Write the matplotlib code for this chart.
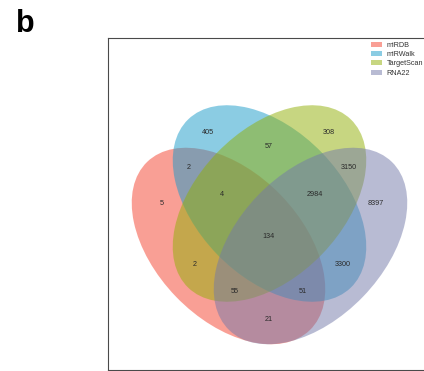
import matplotlib
matplotlib.use("Agg")
import matplotlib.pyplot as plt
from matplotlib.patches import Ellipse, Patch

# ---- data ----
set_names = ["miRDB", "miRWalk", "TargetScan", "RNA22"]
set_colors = ["#f5412d", "#199bc9", "#91af05", "#7379a9"]
region_keys = ["1000", "0100", "0010", "0001", "1100", "0011", "0110",
               "1110", "0111", "1111", "1010", "0101", "1011", "1101", "1001"]
region_counts = [5, 405, 308, 8397, 2, 3150, 57,
                 4, 2984, 134, 2, 3300, 55, 51, 21]

# ---- layout (pixel based, y measured from top) ----
W, H = 424, 371
fig = plt.figure(figsize=(W / 100, H / 100), dpi=100)
left, right, top, bottom = 107.5, 445.0, 38.3, 370.0
ax = fig.add_axes([left / W, (H - bottom) / H, (right - left) / W, (bottom - top) / H])
ax.set_xlim(left, right)
ax.set_ylim(H - bottom, H - top)
ax.set_xticks([])
ax.set_yticks([])
for s in ax.spines.values():
    s.set_color("#4a4a4a")
    s.set_linewidth(0.8)

ell_geom = [  # (cx, cy_from_top, angle)
    (228.5, 246.0, 134),
    (269.5, 203.5, 134),
    (269.5, 203.5, 46),
    (310.5, 246.0, 46),
]
for (cx, cy, ang), col in zip(ell_geom, set_colors):
    ax.add_patch(Ellipse((cx, H - cy), 234, 146, angle=ang,
                         facecolor=col, alpha=0.5, edgecolor="none"))

label_pos = {
    "1000": (161.7, 203.3), "0100": (208.3, 132.7), "0010": (329.3, 132.7),
    "0001": (376.0, 203.3), "1100": (188.3, 167.3), "0011": (349.3, 167.3),
    "0110": (269.0, 146.7), "1110": (221.7, 195.0), "0111": (315.0, 195.0),
    "1111": (269.0, 236.7), "1010": (195.0, 264.0), "0101": (342.7, 264.0),
    "1011": (235.0, 291.7), "1101": (302.3, 291.7), "1001": (269.0, 319.3),
}
for k, v in zip(region_keys, region_counts):
    x, y = label_pos[k]
    ax.text(x, H - y, str(v), ha="center", va="center",
            fontsize=5.2, family="Liberation Sans", color="#2a2a2a")

handles = [Patch(facecolor=c, alpha=0.5, edgecolor="none") for c in set_colors]
fig.legend(handles, set_names, loc="upper left",
           bbox_to_anchor=(370.7 / W, 1 - 41.6 / H), bbox_transform=fig.transFigure,
           frameon=False, borderpad=0, borderaxespad=0,
           handlelength=1.53, handleheight=0.7, handletextpad=0.7,
           labelspacing=0.32,
           prop={"family": "Liberation Sans", "size": 5.2})
for t in fig.legends[0].get_texts():
    t.set_color("#333333")

fig.text(15.5 / W, 1 - 32.5 / H, "b", fontsize=22, fontweight="bold",
         family="Liberation Sans", ha="left", va="baseline")

fig.savefig("out.png", dpi=100)
